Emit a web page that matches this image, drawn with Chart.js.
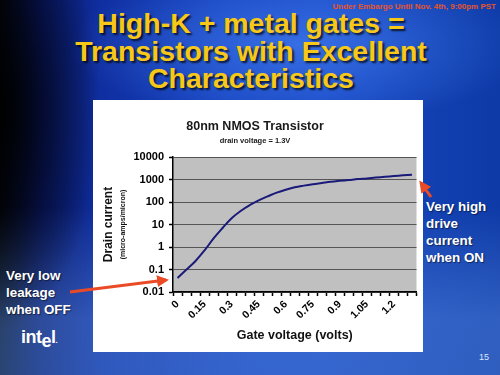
<!DOCTYPE html>
<html>
<head>
<meta charset="utf-8">
<script src="https://cdn.jsdelivr.net/npm/chart.js@4.4.1/dist/chart.umd.min.js"></script>
<style>
  html, body { margin: 0; padding: 0; }
  body {
    width: 500px; height: 375px; overflow: hidden; position: relative;
    font-family: "Liberation Sans", Arial, sans-serif;
    background:
      radial-gradient(ellipse 100px 220px at 0px 110px, rgba(0,0,0,0.9), rgba(0,0,0,0) 100%),
      radial-gradient(ellipse 230px 80px at 300px 45px, rgba(70,130,245,0.65), rgba(70,130,245,0) 100%),
      linear-gradient(to bottom, rgba(0,0,0,0) 55%, rgba(90,140,225,0.45) 85%, rgba(80,130,215,0.5) 100%),
      linear-gradient(to right, #03060c 0%, #081660 8%, #0f2ea0 20%, #1744c0 45%, #1a4ac6 65%, #1240b2 85%, #0d3aa6 100%);
  }
  .embargo {
    position: absolute; right: 4px; top: 2px;
    font: bold 8px "Liberation Sans", Arial, sans-serif; color: #e8552a;
  }
  .title {
    position: absolute; left: 0; width: 502px; top: 10px; text-align: center;
    font: bold 28.5px/27.5px "Liberation Sans", Arial, sans-serif;
    color: #f8c818; text-shadow: 2px 2px 2px rgba(0,0,0,0.75);
  }
  .note {
    position: absolute; color: #fff;
    font: bold 13.4px/17px "Liberation Sans", Arial, sans-serif;
    text-shadow: 1px 1px 1px rgba(0,0,0,0.5);
  }
  .box {
    position: absolute; left: 93px; top: 100px; width: 330px; height: 252px; background: #fff;
  }
  .logo {
    position: absolute; left: 21px; top: 327px; color: #fff;
    font: bold 18px "Liberation Sans", Arial, sans-serif; letter-spacing: -0.5px;
  }
  .page {
    position: absolute; left: 479px; top: 352px; color: #dde6ff;
    font: 9px "Liberation Sans", Arial, sans-serif;
  }
  svg { position: absolute; left: 0; top: 0; }
</style>
</head>
<body>
<div class="embargo">Under Embargo Until Nov. 4th, 9:00pm PST</div>
<div class="title">High-K + metal gates =<br>Transistors with Excellent<br>Characteristics</div>

<div class="box"><canvas id="chart"></canvas></div>

<div class="note" style="left:6px; top:267px;">Very low<br>leakage<br>when OFF</div>
<div class="note" style="left:426px; top:198px;">Very high<br>drive<br>current<br>when ON</div>
<div class="logo">int<span style="position:relative; top:4px;">e</span>l<span style="font-size:8px;">.</span></div>
<div class="page">15</div>

<svg width="500" height="375">
  <defs>
    <marker id="head" markerWidth="4" markerHeight="4" refX="3" refY="2" orient="auto">
      <path d="M0,0 L4,2 L0,4 z" fill="#ea4a25"/>
    </marker>
  </defs>
  <line x1="70" y1="292" x2="166" y2="280" stroke="#ea4a25" stroke-width="3" marker-end="url(#head)"/>
  <line x1="431" y1="197" x2="421" y2="183" stroke="#ea4a25" stroke-width="3" marker-end="url(#head)"/>
</svg>

<script>
// gate voltage categories (volts)
const gateVoltage = ["0", "0.05", "0.1", "0.15", "0.2", "0.25", "0.3", "0.35", "0.4",
  "0.45", "0.5", "0.55", "0.6", "0.65", "0.7", "0.75", "0.8", "0.85", "0.9",
  "0.95", "1", "1.05", "1.1", "1.15", "1.2", "1.25", "1.3"];
// drain current (micro-amps/micron)
const drainCurrent = [0.042, 0.10, 0.24, 0.71, 2.4, 7.0, 19, 40, 72,
  118, 178, 260, 350, 450, 535, 620, 700, 790, 870,
  950, 1040, 1120, 1220, 1320, 1420, 1530, 1640];
const xTickLabels = ["0", "0.15", "0.3", "0.45", "0.6", "0.75", "0.9", "1.05", "1.2"];
const yTickValues = [0.01, 0.1, 1, 10, 100, 1000, 10000];

// gray plot background + y axis titles
const plotDecor = {
  id: "plotDecor",
  beforeDraw(chart) {
    const a = chart.chartArea, ctx = chart.ctx;
    ctx.save();
    ctx.fillStyle = "#c0c0c0";
    ctx.fillRect(a.left, a.top, a.right - a.left, a.bottom - a.top);
    ctx.restore();
  },
  afterDraw(chart) {
    const a = chart.chartArea, ctx = chart.ctx;
    const cy = (a.top + a.bottom) / 2;
    ctx.save();
    ctx.fillStyle = "#111";
    ctx.textAlign = "center";
    ctx.textBaseline = "middle";
    ctx.translate(16, cy);
    ctx.rotate(-Math.PI / 2);
    ctx.font = "bold 12px 'Liberation Sans', Arial, sans-serif";
    ctx.fillText("Drain current", 0, 0);
    ctx.font = "bold 7px 'Liberation Sans', Arial, sans-serif";
    ctx.fillText("(micro-amps/micron)", 0, 14);
    ctx.restore();
  }
};

new Chart(document.getElementById("chart").getContext("2d"), {
  type: "line",
  data: {
    labels: gateVoltage,
    datasets: [{
      data: drainCurrent,
      borderColor: "#1a1a7a",
      borderWidth: 2,
      pointRadius: 0,
      tension: 0.4,
      fill: false
    }]
  },
  options: {
    responsive: true,
    maintainAspectRatio: false,
    animation: false,
    layout: { padding: { left: 0, right: 6, top: 0, bottom: 0 } },
    plugins: {
      legend: { display: false },
      tooltip: { enabled: false },
      title: {
        display: true,
        text: "80nm NMOS Transistor",
        color: "#1a1a1a",
        font: { family: "'Liberation Sans', Arial", size: 12.5, weight: "bold", lineHeight: 1.2 },
        padding: { top: 19, bottom: 2 }
      },
      subtitle: {
        display: true,
        text: "drain voltage = 1.3V",
        color: "#1a1a1a",
        font: { family: "'Liberation Sans', Arial", size: 7.5, weight: "bold", lineHeight: 1.2 },
        padding: { top: 0, bottom: 12 }
      }
    },
    scales: {
      x: {
        type: "category",
        offset: true,
        afterFit(axis) { axis.height = 60; },
        grid: {
          offset: true,
          drawOnChartArea: false,
          drawTicks: true,
          tickLength: 4,
          tickColor: "#000",
          tickWidth: 1.5
        },
        border: { color: "#000", width: 1.5 },
        ticks: {
          autoSkip: false,
          minRotation: 45,
          maxRotation: 45,
          padding: 2,
          color: "#000",
          font: { family: "'Liberation Sans', Arial", size: 10.5, weight: "bold" },
          callback(value, index) {
            const lbl = gateVoltage[index];
            return xTickLabels.includes(lbl) ? lbl : "";
          }
        },
        title: {
          display: true,
          text: "Gate voltage (volts)",
          color: "#111",
          font: { family: "'Liberation Sans', Arial", size: 12.5, weight: "bold", lineHeight: 1.2 },
          padding: { top: 0, bottom: 9 }
        }
      },
      y: {
        type: "logarithmic",
        min: 0.01,
        max: 10000,
        afterFit(axis) { axis.width = 80; },
        afterBuildTicks(axis) { axis.ticks = yTickValues.map(v => ({ value: v })); },
        grid: {
          color: "#555",
          lineWidth: 1,
          tickLength: 4,
          tickColor: "#000",
          tickWidth: 1.5
        },
        border: { color: "#000", width: 1.5 },
        ticks: {
          padding: 5,
          color: "#000",
          font: { family: "'Liberation Sans', Arial", size: 11, weight: "bold" },
          callback(value) { return String(value); }
        }
      }
    }
  },
  plugins: [plotDecor]
});
</script>
</body>
</html>
